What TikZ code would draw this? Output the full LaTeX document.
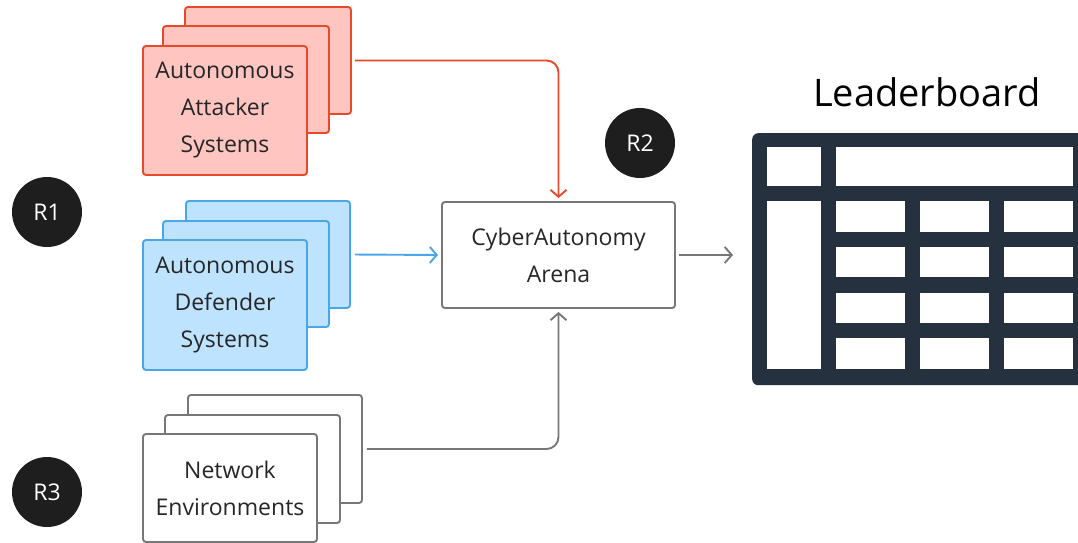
\documentclass[tikz,border=0pt]{standalone}
\usepackage{fontspec}
\setmainfont{Open Sans}
\usepackage{xcolor}
\usetikzlibrary{arrows.meta, positioning}
\definecolor{atkline}{HTML}{E64A2A}
\definecolor{atkfill}{HTML}{FFC6C1}
\definecolor{defline}{HTML}{4AA6E6}
\definecolor{deffill}{HTML}{BEE3FF}
\definecolor{envline}{HTML}{777777}
\definecolor{boardcol}{HTML}{263140}
\definecolor{badgecol}{HTML}{1E1E1E}
\definecolor{txtcol}{HTML}{262626}
\tikzset{
  card/.style={draw, rounded corners=3pt, line width=1.9pt, align=center, inner sep=0pt,
    text=txtcol, font=\fontsize{23}{37}\selectfont},
  atkbox/.style={card, draw=atkline, fill=atkfill},
  defbox/.style={card, draw=defline, fill=deffill},
  envbox/.style={card, draw=envline, fill=white},
  arenabox/.style={card, draw=envline, fill=white, minimum width=233pt, minimum height=106pt},
  badge/.style={circle, fill=badgecol, text=white, minimum size=70pt, inner sep=0pt,
    font=\fontsize{23}{27}\selectfont},
  arrow/.style={-{Straight Barb[length=7pt, width=16pt, line width=1.9pt]}, line width=1.9pt},
  atkarrow/.style={arrow, atkline},
  defarrow/.style={arrow, defline},
  envarrow/.style={arrow, envline}
}

\begin{document}
\begin{tikzpicture}[x=1pt, y=-1pt]
    \useasboundingbox (0,0) rectangle (1078,543);
    \clip (0,0) rectangle (1078,543);

    % attacker stack
    \node[atkbox, minimum width=166pt, minimum height=107pt] (atk3) at (268,60.5) {};
    \node[atkbox, minimum width=166pt, minimum height=107pt] (atk2) at (246,79.5) {};
    \node[atkbox, minimum width=164pt, minimum height=129pt] (atk1) at (225,110.5) {Autonomous\\Attacker\\Systems};

    % defender stack
    \node[defbox, minimum width=164pt, minimum height=107pt] (def3) at (268,254.5) {};
    \node[defbox, minimum width=166pt, minimum height=106pt] (def2) at (246,274) {};
    \node[defbox, minimum width=164pt, minimum height=130pt] (def1) at (225,305) {Autonomous\\Defender\\Systems};

    % environment stack
    \node[envbox, minimum width=174pt, minimum height=108pt] (env3) at (275,449) {};
    \node[envbox, minimum width=175pt, minimum height=108pt] (env2) at (252.5,469) {};
    \node[envbox, minimum width=174pt, minimum height=108pt] (env1) at (230,488) {Network\\Environments};

    \node[arenabox] (arena) at (558.5,255) {CyberAutonomy\\Arena};

    \node[badge] (r1) at (47,212) {R1};
    \node[badge] (r2) at (640,143) {R2};
    \node[badge] (r3) at (47,492) {R3};

    % leaderboard
    \node[anchor=base, font=\fontsize{38}{44}\selectfont] (title) at (927,106) {Leaderboard};
    \node[fill=boardcol, rounded corners=6pt, minimum width=340pt, minimum height=252pt,
      anchor=north west, inner sep=0pt] (board) at (752,133) {};
    \fill[white] (767,147) rectangle (821,186);
    \fill[white] (836,147) rectangle (1073,186);
    \fill[white] (767,201) rectangle (821,369);
    \foreach \c in {0,1,2}
      \foreach \r in {0,1,2,3}
        \fill[white] (836+84*\c,201+45.8*\r) rectangle ++(69,30.5);

    \draw[atkarrow, rounded corners=12pt, shorten >=3pt] ([xshift=3pt]atk3.east) -| (arena.north);
    \draw[defarrow, shorten <=4pt, shorten >=3pt] (def3.east) -- (arena.west);
    \draw[envarrow, rounded corners=12pt, shorten >=3pt] ([xshift=4pt]env3.east) -| (arena.south);
    \draw[envarrow, shorten <=3pt, shorten >=19pt] (arena.east) -- (arena.east -| board.west);
\end{tikzpicture}
\end{document}
